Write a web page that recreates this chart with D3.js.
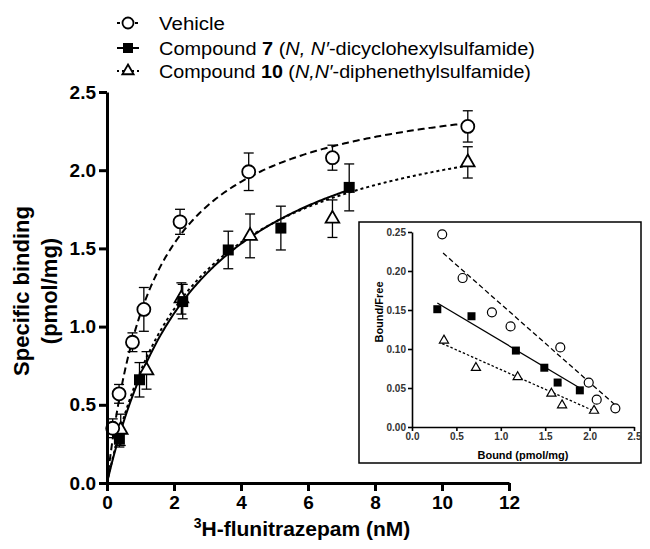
<!DOCTYPE html>
<html>
<head>
<meta charset="utf-8">
<script src="https://cdn.jsdelivr.net/npm/d3@7"></script>
<style>
  body { margin: 0; background: #fff; }
  svg { display: block; font-family: "Liberation Sans", Arial, sans-serif; }
</style>
</head>
<body>
<svg id="chart" width="650" height="549"></svg>
<script>
// saturation binding, mean +/- SEM
const vehicleConc = [0.17, 0.36, 0.76, 1.10, 2.18, 4.23, 6.73, 10.77];
const vehicleBound = [0.35, 0.57, 0.90, 1.11, 1.67, 1.99, 2.08, 2.28];
const vehicleSem = [0.06, 0.06, 0.06, 0.14, 0.08, 0.12, 0.08, 0.10];

const cpd7Conc = [0.37, 0.97, 2.26, 3.62, 5.19, 7.23];
const cpd7Bound = [0.28, 0.66, 1.16, 1.49, 1.63, 1.89];
const cpd7Sem = [0.05, 0.11, 0.11, 0.12, 0.14, 0.15];

const cpd10Conc = [0.41, 1.18, 2.22, 4.27, 6.73, 10.77];
const cpd10Bound = [0.34, 0.72, 1.18, 1.58, 1.69, 2.05];
const cpd10Sem = [0.10, 0.12, 0.10, 0.14, 0.12, 0.10];

// one-site fits: vehicle, compound 7, compound 10
const fitBmax = [2.6, 2.6, 2.5];
const fitKd = [1.4, 2.8, 2.5];
const fitEnd = [10.77, 7.3, 10.77];

// Scatchard inset (bound, bound/free)
const scatVehicleB = [0.34, 0.57, 0.90, 1.11, 1.67, 1.99, 2.08, 2.29];
const scatVehicleBF = [0.247, 0.191, 0.147, 0.129, 0.102, 0.057, 0.035, 0.024];
const scatCpd7B = [0.285, 0.67, 1.17, 1.49, 1.64, 1.89];
const scatCpd7BF = [0.151, 0.142, 0.098, 0.076, 0.057, 0.047];
const scatCpd10B = [0.36, 0.72, 1.19, 1.57, 1.69, 2.05];
const scatCpd10BF = [0.111, 0.076, 0.064, 0.043, 0.028, 0.021];
// regression line ends [x0, y0, x1, y1]
const scatLines = [
  [0.35, 0.223, 2.32, 0.025],
  [0.285, 0.159, 1.89, 0.050],
  [0.34, 0.107, 2.06, 0.020]
];

const xTicks = [0, 2, 4, 6, 8, 10, 12];
const yTicks = [0, 0.5, 1.0, 1.5, 2.0, 2.5];
const insetXTicks = [0, 0.5, 1.0, 1.5, 2.0, 2.5];
const insetYTicks = [0, 0.05, 0.10, 0.15, 0.20, 0.25];

const svg = d3.select("#chart");

const x = d3.scaleLinear().domain([0, 12]).range([107, 509]);
const y = d3.scaleLinear().domain([0, 2.5]).range([483, 92]);

const styles = ["7,4", null, "3,3"];

// fitted curves
const line = d3.line().x(d => x(d[0])).y(d => y(d[1]));
fitBmax.forEach((b, i) => {
  const pts = d3.range(0, fitEnd[i] + 0.001, 0.05).map(c => [c, b * c / (fitKd[i] + c)]);
  svg.append("path")
      .attr("d", line(pts))
      .attr("fill", "none")
      .attr("stroke", "#000")
      .attr("stroke-width", 2)
      .attr("stroke-dasharray", styles[i]);
});

function errorBars(g, xs, ys, es, xs_, ys_, cap, w) {
  xs.forEach((c, i) => {
    const cx = xs_(c);
    g.append("line").attr("x1", cx).attr("x2", cx)
        .attr("y1", ys_(ys[i] - es[i])).attr("y2", ys_(ys[i] + es[i]));
    [ys[i] - es[i], ys[i] + es[i]].forEach(v => {
      g.append("line").attr("x1", cx - cap).attr("x2", cx + cap)
          .attr("y1", ys_(v)).attr("y2", ys_(v));
    });
  });
  g.attr("stroke", "#000").attr("stroke-width", w);
}

const eb = svg.append("g");
errorBars(eb.append("g"), cpd10Conc, cpd10Bound, cpd10Sem, x, y, 5, 1.3);
errorBars(eb.append("g"), cpd7Conc, cpd7Bound, cpd7Sem, x, y, 5, 1.3);
errorBars(eb.append("g"), vehicleConc, vehicleBound, vehicleSem, x, y, 5, 1.3);

function triangles(g, xs, ys, sx, sy, size, sw) {
  g.selectAll("path").data(xs).join("path")
      .attr("transform", (d, i) => `translate(${sx(d)},${sy(ys[i])})`)
      .attr("d", d3.symbol(d3.symbolTriangle, size))
      .attr("fill", "#fff").attr("stroke", "#000").attr("stroke-width", sw);
}
function squares(g, xs, ys, sx, sy, s) {
  g.selectAll("rect").data(xs).join("rect")
      .attr("x", d => sx(d) - s / 2)
      .attr("y", (d, i) => sy(ys[i]) - s / 2)
      .attr("width", s).attr("height", s)
      .attr("fill", "#000");
}
function circles(g, xs, ys, sx, sy, r, sw) {
  g.selectAll("circle").data(xs).join("circle")
      .attr("cx", d => sx(d)).attr("cy", (d, i) => sy(ys[i]))
      .attr("r", r)
      .attr("fill", "#fff").attr("stroke", "#000").attr("stroke-width", sw);
}

triangles(svg.append("g"), cpd10Conc, cpd10Bound, x, y, 80, 1.8);
squares(svg.append("g"), cpd7Conc, cpd7Bound, x, y, 11);
circles(svg.append("g"), vehicleConc, vehicleBound, x, y, 6.5, 1.8);

// axes
const xAxis = svg.append("g")
    .attr("transform", "translate(0,483)")
    .call(d3.axisBottom(x).tickValues(xTicks).tickFormat(d3.format("d")).tickSize(8).tickSizeOuter(0).tickPadding(5));
const yAxis = svg.append("g")
    .attr("transform", "translate(107,0)")
    .call(d3.axisLeft(y).tickValues(yTicks).tickFormat(d3.format(".1f")).tickSize(8).tickSizeOuter(0).tickPadding(3));
[xAxis, yAxis].forEach(a => {
  a.selectAll("path, line").attr("stroke", "#000").attr("stroke-width", 3);
  a.selectAll("text").attr("fill", "#000")
      .style("font-size", "19px").style("font-weight", "bold")
      .style("font-family", "'Liberation Sans', Arial, sans-serif");
});

svg.append("text")
    .attr("transform", "translate(29,291) rotate(-90)")
    .attr("text-anchor", "middle")
    .style("font-size", "22px").style("font-weight", "bold")
    .text("Specific binding");
svg.append("text")
    .attr("transform", "translate(57,291) rotate(-90)")
    .attr("text-anchor", "middle")
    .style("font-size", "22px").style("font-weight", "bold")
    .text("(pmol/mg)");

const xl = svg.append("text")
    .attr("x", 302).attr("y", 536)
    .attr("text-anchor", "middle")
    .style("font-size", "21px").style("font-weight", "bold");
xl.append("tspan").attr("dy", -8).style("font-size", "14px").text("3");
xl.append("tspan").attr("dy", 8).text("H-flunitrazepam (nM)");

// legend
const legend = svg.append("g");
const legendRows = [
  {y: 23, dash: "3,3", len: 66, parts: [["Vehicle", ""]]},
  {y: 48, dash: null, len: 376, parts: [["Compound ", ""], ["7", "b"], [" (", ""], ["N, N′", "i"], ["-dicyclohexylsulfamide)", ""]]},
  {y: 71, dash: "2,3", len: 372, parts: [["Compound ", ""], ["10", "b"], [" (", ""], ["N,N′", "i"], ["-diphenethylsulfamide)", ""]]}
];
legendRows.forEach((r, i) => {
  legend.append("line")
      .attr("x1", 117).attr("x2", 139).attr("y1", r.y).attr("y2", r.y)
      .attr("stroke", "#000").attr("stroke-width", 2)
      .attr("stroke-dasharray", r.dash);
  const g = legend.append("g");
  if (i === 0) circles(g, [128], [r.y], d => d, d => d, 5.5, 1.8);
  if (i === 1) squares(g, [128], [r.y], d => d, d => d, 10);
  if (i === 2) triangles(g, [128], [r.y], d => d, d => d, 55, 1.8);
  const tg = legend.append("g").attr("transform", `translate(159,${r.y + 7})`);
  const t = tg.append("text").style("font-size", "19px");
  r.parts.forEach(p => {
    const ts = t.append("tspan").text(p[0]);
    if (p[1] === "b") ts.style("font-weight", "bold");
    if (p[1] === "i") ts.style("font-style", "italic");
  });
  const w = t.node().getComputedTextLength();
  tg.attr("transform", `translate(159,${r.y + 7}) scale(${r.len / w},1)`);
});

// inset
svg.append("rect")
    .attr("x", 359).attr("y", 222).attr("width", 282).attr("height", 241)
    .attr("fill", "#fff").attr("stroke", "#000").attr("stroke-width", 1.5);

const ix = d3.scaleLinear().domain([0, 2.5]).range([412, 634]);
const iy = d3.scaleLinear().domain([0, 0.25]).range([427, 232]);

scatLines.forEach((l, i) => {
  svg.append("line")
      .attr("x1", ix(l[0])).attr("y1", iy(l[1]))
      .attr("x2", ix(l[2])).attr("y2", iy(l[3]))
      .attr("stroke", "#000").attr("stroke-width", 1.3)
      .attr("stroke-dasharray", ["5,3", null, "2.5,2"][i]);
});

triangles(svg.append("g"), scatCpd10B, scatCpd10BF, ix, iy, 36, 1.2);
squares(svg.append("g"), scatCpd7B, scatCpd7BF, ix, iy, 8);
circles(svg.append("g"), scatVehicleB, scatVehicleBF, ix, iy, 4.5, 1.2);

const ixAxis = svg.append("g")
    .attr("transform", "translate(0,427)")
    .call(d3.axisBottom(ix).tickValues(insetXTicks).tickFormat(d3.format(".1f")).tickSize(4).tickSizeOuter(0).tickPadding(2));
const iyAxis = svg.append("g")
    .attr("transform", "translate(412,0)")
    .call(d3.axisLeft(iy).tickValues(insetYTicks).tickFormat(d3.format(".2f")).tickSize(4).tickSizeOuter(0).tickPadding(2));
[ixAxis, iyAxis].forEach(a => {
  a.selectAll("path, line").attr("stroke", "#000").attr("stroke-width", 1.6);
  a.selectAll("text").attr("fill", "#333")
      .style("font-size", "10px").style("font-weight", "bold")
      .style("font-family", "'Liberation Sans', Arial, sans-serif");
});

svg.append("text")
    .attr("x", 523).attr("y", 459)
    .attr("text-anchor", "middle")
    .style("font-size", "11px").style("font-weight", "bold")
    .text("Bound (pmol/mg)");
svg.append("text")
    .attr("transform", "translate(383,312) rotate(-90)")
    .attr("text-anchor", "middle")
    .style("font-size", "11px").style("font-weight", "bold")
    .text("Bound/Free");
</script>
</body>
</html>
